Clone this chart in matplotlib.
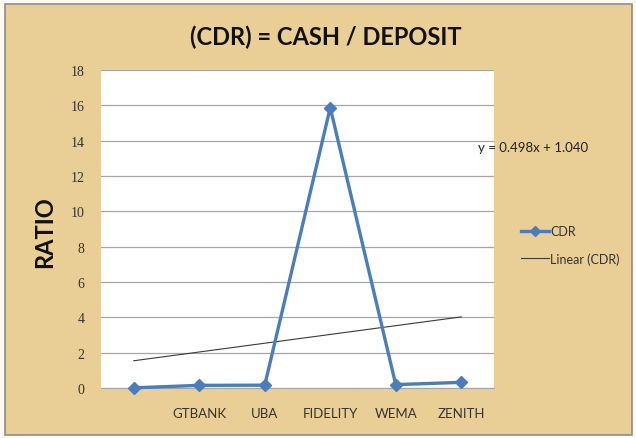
import numpy as np
import matplotlib
matplotlib.use("Agg")
import matplotlib.pyplot as plt
from matplotlib.lines import Line2D
from matplotlib.patches import Rectangle

categories = ["", "GTBANK", "UBA", "FIDELITY", "WEMA", "ZENITH"]
cdr = [0.01, 0.15, 0.16, 15.87, 0.19, 0.32]
y_ticks = [0, 2, 4, 6, 8, 10, 12, 14, 16, 18]
title = "(CDR) = CASH / DEPOSIT"
equation = "y = 0.498x + 1.040"

W, H = 636, 439
fig = plt.figure(figsize=(W / 100, H / 100), dpi=100)
fig.patch.set_facecolor("#fbfaf5")

# chart area background (papyrus-like tan) with border
bg = Rectangle((5 / W, 3 / H), 627 / W, 431 / H, transform=fig.transFigure,
               facecolor="#e9cf95", edgecolor="#8c8c8c", linewidth=1.2, zorder=-10)
fig.patches.append(bg)

ax = fig.add_axes([101 / W, (H - 389) / H, 393 / W, 318 / H])
ax.set_zorder(1)
ax.set_facecolor("white")
x = np.arange(1, len(categories) + 1)
ax.plot(x, cdr, color="#4a7ebb", linewidth=2.4, marker="D", markersize=6,
        markeredgecolor="#4a7ebb", markerfacecolor="#4a7ebb", zorder=3, clip_on=False)

slope, intercept = np.polyfit(x, cdr, 1)
ax.plot(x, slope * x + intercept, color="#3a3a3a", linewidth=0.8, zorder=2)

ax.set_xlim(0.5, len(categories) + 0.5)
ax.set_ylim(0, 18)
ax.set_yticks(y_ticks)
ax.set_yticklabels([str(t) for t in y_ticks], fontfamily="Liberation Serif",
                   fontsize=10, color="#333333")
ax.set_xticks(x)
ax.set_xticklabels(categories, fontfamily="Lato", fontsize=9.5, color="#333333")
ax.tick_params(axis="y", length=0, pad=12)
ax.tick_params(axis="x", length=0, pad=14)
ax.grid(axis="y", color="#a6a6a6", linewidth=0.9)
ax.set_axisbelow(True)
for s in ["top", "right", "left"]:
    ax.spines[s].set_visible(False)
ax.spines["bottom"].set_color("#a6a6a6")

fig.text(326 / W, 1 - 37 / H, title, ha="center", va="center",
         fontfamily="Lato", fontweight="bold", fontsize=17, color="#111111")
fig.text(45 / W, 1 - 232 / H, "RATIO", ha="center", va="center", rotation=90,
         fontfamily="Lato", fontweight="bold", fontsize=17, color="#111111")
fig.text(478 / W, 1 - 148 / H, equation, ha="left", va="center",
         fontfamily="Lato", fontsize=9.5, color="#222222", zorder=5)

handles = [Line2D([], [], color="#4a7ebb", linewidth=2.4, marker="D", markersize=5),
           Line2D([], [], color="#3a3a3a", linewidth=0.8)]
fig.legend(handles, ["CDR", "Linear (CDR)"], loc="center left",
           bbox_to_anchor=(510 / W, 1 - 246 / H), frameon=False,
           prop={"family": "Lato", "size": 9}, handlelength=2.2,
           handletextpad=0.1, labelspacing=1.2, labelcolor="#333333")

fig.savefig("out.png", dpi=100)
